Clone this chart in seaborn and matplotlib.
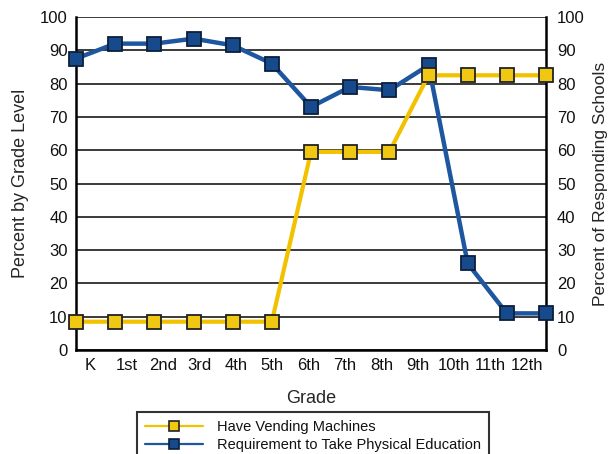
import matplotlib
matplotlib.use("Agg")
import matplotlib.pyplot as plt
import seaborn as sns
import pandas as pd
import numpy as np
from matplotlib.lines import Line2D

grades = ["K", "1st", "2nd", "3rd", "4th", "5th", "6th", "7th", "8th", "9th", "10th", "11th", "12th"]
vending = [8.5, 8.5, 8.5, 8.5, 8.5, 8.5, 59.5, 59.5, 59.5, 82.5, 82.5, 82.5, 82.5]
phys_ed = [87.5, 92, 92, 93.5, 91.5, 86, 73, 79, 78, 85.5, 26, 11, 11]
series_names = ["Have Vending Machines", "Requirement to Take Physical Education"]
yticks = [0, 10, 20, 30, 40, 50, 60, 70, 80, 90, 100]

sns.set_style("white")
plt.rcParams["font.family"] = ["Liberation Sans", "DejaVu Sans"]
plt.rcParams["text.color"] = "#111111"

yellow_line = "#F2C200"
yellow_face = "#F0C814"
blue_line = "#1E56A0"
blue_face = "#174A8C"

fig = plt.figure(figsize=(6.1, 4.54), dpi=100)
ax = fig.add_axes([76/610, 1-350/454, (546-76)/610, (350-17)/454])

idx = np.arange(len(grades))
df = pd.DataFrame({
    "x": np.concatenate([idx, idx]),
    "y": phys_ed + vending,
    "series": [series_names[1]] * len(grades) + [series_names[0]] * len(grades),
})

for y in yticks:
    ax.axhline(y, color="#3a3a3a", lw=1.4, zorder=1)

sns.lineplot(data=df[df.series == series_names[1]], x="x", y="y", ax=ax,
             color=blue_line, lw=3.2, marker="s", markersize=9.5,
             markerfacecolor=blue_face, markeredgecolor="#0b1f3a", markeredgewidth=1.3,
             clip_on=False, zorder=3, legend=False)
sns.lineplot(data=df[df.series == series_names[0]], x="x", y="y", ax=ax,
             color=yellow_line, lw=3.0, marker="s", markersize=9.5,
             markerfacecolor=yellow_face, markeredgecolor="#222222", markeredgewidth=1.3,
             clip_on=False, zorder=4, legend=False)

ax.set_xlim(0, 12)
ax.set_ylim(0, 100)
ax.set_yticks(yticks)
ax.set_yticklabels([str(v) for v in yticks], fontsize=12)
ax.tick_params(axis="y", length=0, pad=6, labelcolor="#111111")

ax.set_xticks(idx)
ax.set_xticklabels([""] * len(idx))
ax.tick_params(axis="x", which="major", direction="in", length=7, width=1.5, color="black")
label_pos = 0.36 + 0.93 * idx
ax.set_xticks(label_pos, minor=True)
ax.set_xticklabels(grades, minor=True, fontsize=12)
ax.tick_params(axis="x", which="minor", length=0, pad=6, labelcolor="#111111")

for s in ["left", "right", "bottom"]:
    ax.spines[s].set_visible(True)
    ax.spines[s].set_color("black")
    ax.spines[s].set_linewidth(1.8)
ax.spines["top"].set_visible(False)

ax.set_xlabel("Grade", fontsize=13, labelpad=12)
ax.set_ylabel("Percent by Grade Level", fontsize=13, labelpad=8)

ax2 = ax.twinx()
ax2.set_ylim(0, 100)
ax2.set_yticks(yticks)
ax2.set_yticklabels([str(v) for v in yticks], fontsize=12)
ax2.tick_params(axis="y", length=0, pad=8, labelcolor="#111111")
ax2.set_ylabel("Percent of Responding Schools", fontsize=12.5, labelpad=6)
for s in ["left", "right", "bottom", "top"]:
    ax2.spines[s].set_visible(False)

handles = [
    Line2D([0], [0], color=yellow_line, lw=1.6, marker="s", markersize=7.5,
           markerfacecolor=yellow_face, markeredgecolor="#222222", markeredgewidth=1.2),
    Line2D([0], [0], color=blue_line, lw=1.6, marker="s", markersize=7.5,
           markerfacecolor=blue_face, markeredgecolor="#0b1f3a", markeredgewidth=1.2),
]
leg = fig.legend(handles, series_names, loc="upper center", bbox_to_anchor=(313/610, 1-412/454),
                 frameon=True, fancybox=False, fontsize=10.5, handlelength=4.0,
                 handletextpad=1.0, borderpad=0.55, labelspacing=0.25, borderaxespad=0)
leg.get_frame().set_edgecolor("black")
leg.get_frame().set_linewidth(1.5)

fig.savefig("out.png", dpi=100)
